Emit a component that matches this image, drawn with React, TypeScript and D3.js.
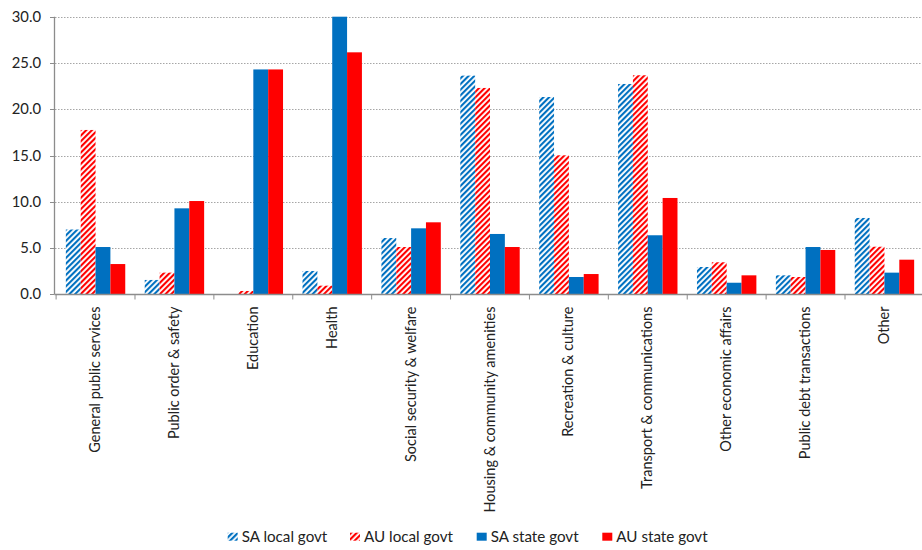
import React from "react";
import * as d3 from "d3";

const categories = [
  "General public services",
  "Public order & safety",
  "Education",
  "Health",
  "Social security & welfare",
  "Housing & community amenities",
  "Recreation & culture",
  "Transport & communications",
  "Other economic affairs",
  "Public debt transactions",
  "Other",
];

const seriesNames = ["SA local govt", "AU local govt", "SA state govt", "AU state govt"];

const saLocal = [7.0, 1.55, 0.0, 2.52, 6.08, 23.63, 21.32, 22.73, 2.95, 2.05, 8.25];
const auLocal = [17.76, 2.34, 0.36, 0.93, 5.11, 22.3, 15.02, 23.67, 3.46, 1.87, 5.14];
const saState = [5.11, 9.29, 24.3, 30.0, 7.13, 6.52, 1.87, 6.38, 1.25, 5.11, 2.34];
const auState = [3.27, 10.08, 24.3, 26.15, 7.78, 5.11, 2.19, 10.41, 2.05, 4.79, 3.74];

const yTicks = [0, 5, 10, 15, 20, 25, 30];

const W = 922;
const H = 550;
const BLUE = "#0070C0";
const RED = "#FF0000";
const FONT = "Lato, 'Open Sans', sans-serif";

export default function App() {
  const seriesValues = [saLocal, auLocal, saState, auState];
  const fills = ["url(#hatchBlue)", "url(#hatchRed)", BLUE, RED];
  const legendFills = ["url(#hatchBlueL)", "url(#hatchRedL)", BLUE, RED];

  const x = d3.scaleBand<string>().domain(categories).range([56.1, 923.9]).paddingInner(0).paddingOuter(0);
  const xs = d3.scaleBand<string>().domain(seriesNames).range([0, x.bandwidth()]).paddingInner(0).paddingOuter(0.656);
  const y = d3.scaleLinear().domain([0, 30]).range([294.3, 16.7]);

  const axisColor = "#8c8c8c";
  const legendX = [227.7, 350, 476.7, 602.3];

  return (
    <svg width={W} height={H} style={{ position: "absolute", left: 0, top: 0, background: "#fff" }}>
      <defs>
        <pattern id="hatchBlue" patternUnits="userSpaceOnUse" width={4} height={4} patternTransform="rotate(45)">
          <rect width={4} height={4} fill="#fff" />
          <rect width={2.1} height={4} fill={BLUE} />
        </pattern>
        <pattern id="hatchRed" patternUnits="userSpaceOnUse" width={4} height={4} patternTransform="rotate(45)">
          <rect width={4} height={4} fill="#fff" />
          <rect width={2.1} height={4} fill={RED} />
        </pattern>
        <pattern id="hatchBlueL" patternUnits="userSpaceOnUse" width={4} height={4} patternTransform="rotate(45)">
          <rect width={4} height={4} fill="#fff" />
          <rect width={2.2} height={4} fill={BLUE} />
        </pattern>
        <pattern id="hatchRedL" patternUnits="userSpaceOnUse" width={4} height={4} patternTransform="rotate(45)">
          <rect width={4} height={4} fill="#fff" />
          <rect width={2.2} height={4} fill={RED} />
        </pattern>
      </defs>

      {/* gridlines */}
      {yTicks.filter((t) => t > 0).map((t) => (
        <line key={"g" + t} x1={55} x2={W} y1={Math.round(y(t)) + 0.5} y2={Math.round(y(t)) + 0.5}
          stroke="#a6a6a6" strokeWidth={1} strokeDasharray="1.5,1.5" />
      ))}

      {/* bars */}
      {seriesNames.map((s, si) => (
        <g key={s}>
          {categories.map((c, ci) => {
            const v = seriesValues[si][ci];
            const x0 = (x(c) as number) + (xs(s) as number);
            return (
              <rect key={c} x={x0} y={y(v)} width={xs.bandwidth()} height={y(0) - y(v)} fill={fills[si]} />
            );
          })}
        </g>
      ))}

      {/* y axis */}
      <line x1={54.5} x2={54.5} y1={y(30)} y2={y(0)} stroke={axisColor} strokeWidth={1.3} />
      {yTicks.map((t) => (
        <g key={"t" + t}>
          <line x1={50} x2={54.5} y1={Math.round(y(t)) + 0.5} y2={Math.round(y(t)) + 0.5} stroke={axisColor} strokeWidth={1} />
          <text x={41} y={y(t)} dy="0.35em" textAnchor="end" fontFamily={FONT} fontSize={14.8} fill="#222">
            {t.toFixed(1)}
          </text>
        </g>
      ))}

      {/* x axis */}
      <line x1={54.5} x2={W} y1={294.5} y2={294.5} stroke={axisColor} strokeWidth={1.3} />
      {categories.map((c) => (
        <line key={"xt" + c} x1={(x(c) as number)} x2={(x(c) as number)} y1={294.5} y2={299.5} stroke={axisColor} strokeWidth={1} />
      ))}
      <line x1={x.range()[1]} x2={x.range()[1]} y1={294.5} y2={299.5} stroke={axisColor} />
      {categories.map((c) => {
        const cx = (x(c) as number) + x.bandwidth() / 2;
        return (
          <text key={"xl" + c} transform={`translate(${cx + 4.5},306.5) rotate(-90)`} textAnchor="end"
            fontFamily={FONT} fontSize={14.5} fill="#222">
            {c}
          </text>
        );
      })}

      {/* legend */}
      {seriesNames.map((s, i) => (
        <g key={"l" + s}>
          <rect x={legendX[i]} y={532.7} width={10} height={8} fill={legendFills[i]} />
          <text x={legendX[i] + 14} y={537} dy="0.35em" fontFamily={FONT} fontSize={15.2} fill="#222">
            {s}
          </text>
        </g>
      ))}
    </svg>
  );
}
